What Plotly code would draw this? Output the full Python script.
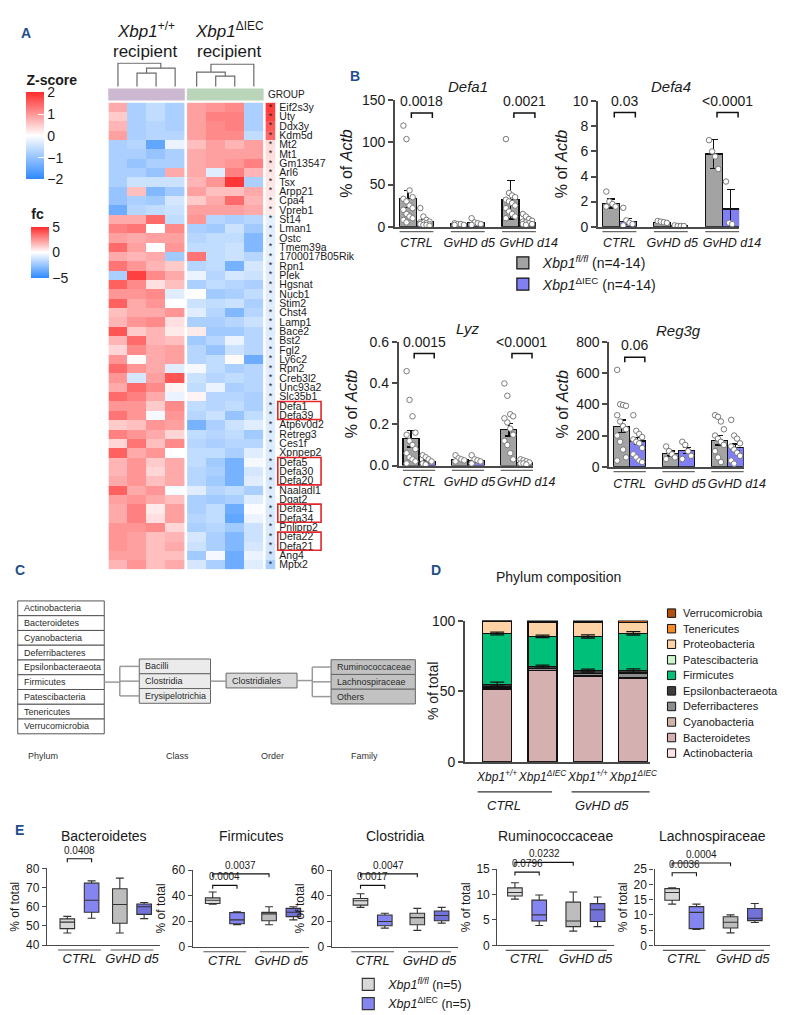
import plotly.graph_objects as go

W, H = 792, 1015
FONT = "Arial, 'Liberation Sans', Helvetica, sans-serif"
INK = "#1a1a1a"
AXC = "#4a4a4a"
PANEL_COL = "#1f4e8c"

# ============================ DATA ============================
# ---- Panel A: heatmap ----
genes = ["Eif2s3y", "Uty", "Ddx3y", "Kdm5d", "Mt2", "Mt1", "Gm13547", "Arl6", "Tsx", "Arpp21",
         "Cpa4", "Vpreb1", "St14", "Lman1", "Ostc", "Tmem39a", "1700017B05Rik", "Rpn1", "Plek",
         "Hgsnat", "Nucb1", "Stim2", "Chst4", "Lamp1", "Bace2", "Bst2", "Fgl2", "Ly6c2", "Rpn2",
         "Creb3l2", "Unc93a2", "Slc35b1", "Defa1", "Defa39", "Atp6v0d2", "Retreg3", "Ces1f",
         "Xpnpep2", "Defa5", "Defa30", "Defa20", "Naaladl1", "Dgat2", "Defa41", "Defa34",
         "Pnliprp2", "Defa22", "Defa21", "Ang4", "Mptx2"]

z_wt = [
    [0.8, -0.8, -0.6, -0.8], [0.5, -0.8, -0.6, -0.8], [0.7, -0.8, -0.7, -0.8], [0.9, -0.8, -0.7, -0.7],
    [-0.8, -0.7, -1.5, -0.2], [-0.8, -0.8, -1.0, -0.8], [-0.8, -1.0, -0.8, -0.8], [-0.8, -0.8, -1.0, 0.8],
    [-0.8, -0.5, -0.5, -0.5], [-1.0, 0.6, -1.2, -0.9], [-1.0, -0.8, -0.9, -0.4], [-1.4, -0.7, -0.6, -0.5],
    [0.8, 0.8, 1.4, -0.6], [1.2, 1.3, 0.0, 1.1], [0.9, 0.8, 0.9, 0.9], [1.4, 0.9, 0.0, 1.0],
    [0.8, 0.7, 0.8, -0.9], [1.3, 1.0, 0.7, 0.5], [-0.8, 1.8, 1.1, 0.8], [1.5, 1.1, 0.3, 0.6],
    [1.0, 1.0, 1.1, -0.3], [1.5, 0.8, 1.0, 0.0], [0.6, 0.8, 0.8, 1.0], [0.7, 1.0, 1.1, 0.3],
    [1.6, 0.5, 0.7, 0.2], [0.7, 1.4, 0.7, 0.6], [0.4, 1.1, 0.8, 0.9], [1.0, 0.05, 0.8, 0.9],
    [1.4, 1.0, 0.8, -0.3], [1.0, -0.4, 0.9, 1.6], [0.8, 1.4, 1.1, 0.1], [1.4, 1.2, 0.8, -0.2],
    [1.0, 1.0, 0.5, 1.1], [1.3, 1.0, -0.1, 1.0], [0.5, 0.6, 1.0, 0.9], [1.2, 1.0, 0.8, 0.4],
    [0.4, 1.3, 0.6, 1.1], [1.5, 0.8, 1.0, 0.0], [0.7, 1.0, 0.5, 0.8], [0.7, 1.0, 0.4, 0.8],
    [0.8, 1.0, 0.6, 0.8], [1.5, 0.8, 1.0, -0.05], [0.9, 1.0, 0.8, 0.6], [0.8, 1.2, 0.2, 0.9],
    [0.8, 1.2, 0.3, 0.9], [1.0, 1.0, 1.1, 0.4], [1.0, 0.9, 0.6, 0.7], [1.0, 0.9, 0.6, 0.8],
    [0.9, 0.9, 0.6, 0.6], [0.7, 1.0, 0.6, 0.8],
]
z_ko = [
    [0.9, 1.0, 1.1, -0.8], [0.9, 1.2, 1.2, -0.8], [0.9, 1.1, 1.2, -0.8], [0.9, 1.1, 1.1, -0.6],
    [0.6, 0.9, 0.7, 0.9], [0.8, 0.9, 0.9, 0.9], [0.8, 0.9, 1.0, 1.2], [0.8, -0.3, 1.2, 0.7],
    [0.7, 1.0, 1.9, -0.8], [0.9, 0.6, 0.6, 0.8], [0.5, 0.8, 1.4, 0.7], [0.9, 0.9, 0.9, 0.8],
    [1.0, -0.7, -0.8, -0.7], [-0.8, -0.9, -0.5, -0.9], [-0.7, -0.6, -0.6, -1.2], [-0.6, -0.6, -0.5, -1.2],
    [1.3, -0.6, -0.5, -0.7], [-0.7, -0.6, -1.3, -0.4], [-0.2, -0.7, -0.4, -0.5], [-0.8, -0.6, -0.7, -0.8],
    [0.0, -0.9, -0.8, -0.6], [-0.5, -0.6, -0.5, -0.8], [-0.3, -0.7, -1.2, -0.7], [-0.8, -0.8, -0.7, -0.5],
    [0.2, -0.9, -0.9, -0.7], [-0.9, -0.7, -0.2, -0.7], [-0.7, -1.0, -0.5, -0.7], [-0.7, -0.6, 0.05, -1.4],
    [-0.1, -0.6, -0.8, -0.7], [-0.5, -0.7, -0.6, -0.7], [-0.6, -0.2, -0.8, -0.7], [0.1, -0.7, -0.7, -0.8],
    [-0.6, -0.7, -0.6, -0.8], [-0.7, -0.5, -1.0, -0.6], [-1.3, -0.8, -0.5, -0.3], [-0.6, -0.7, -0.6, -0.9],
    [-0.7, -0.8, -0.7, -0.7], [-0.6, -0.6, -0.8, -0.3], [-0.6, -0.9, -1.3, -0.1], [-0.7, -0.8, -1.3, -0.4],
    [-0.7, -0.9, -1.3, -0.3], [-0.3, -0.7, -0.6, -0.8], [-0.8, -0.9, -0.8, -0.3], [-0.8, -0.6, -1.4, -0.05],
    [-0.7, -0.6, -1.5, -0.2], [-0.8, -0.7, -0.9, -0.5], [-0.4, -0.8, -1.2, -0.5], [-0.5, -0.8, -1.2, -0.4],
    [-0.9, -0.1, -1.4, -0.2], [-0.4, -0.8, -1.4, -0.3],
]
fc_values = [4.6, 4.4, 3.9, 3.6, 0.8, 0.8, 0.7, 0.6, 0.6, 0.6, 0.5, 0.5,
             -0.6, -0.7, -0.7, -0.6, -0.6, -0.7, -0.7, -0.7,
             -0.7, -0.7, -0.7, -0.7, -0.8, -0.7, -0.7, -0.7, -0.7, -0.7,
             -0.7, -0.7, -0.8, -0.8, -0.8, -0.8, -0.8, -0.8, -0.9, -0.9,
             -0.9, -0.8, -0.8, -0.9, -0.9, -0.9, -0.9, -1.0, -1.2, -2.0]
boxed_genes = [["Defa1", "Defa39"], ["Defa5", "Defa30", "Defa20"], ["Defa41", "Defa34"], ["Defa22", "Defa21"]]
# dendrogram links (left node, right node, height); leaves 0..3, merged nodes 4..
dend_wt = [(1, 2, 14), (4, 3, 19), (0, 5, 24)]
dend_ko = [(1, 2, 11), (0, 4, 15), (5, 3, 23)]

# ---- Panel B: qPCR ----
b_groups = ["CTRL", "GvHD d5", "GvHD d14"]
defa1_fl_mean = [33, 3, 32]
defa1_fl_err = [10, 0.6, 23]
defa1_ko_mean = [6, 4.5, 5]
defa1_ko_err = [2, 1.5, 2]
defa1_fl_pts = [[120, 104, 43, 35, 33, 30, 25, 22, 20, 15, 12, 10, 8, 5], [4, 3, 3, 2, 2],
                [104, 40, 37, 35, 32, 30, 28, 25, 22, 18, 15, 12, 10]]
defa1_ko_pts = [[22, 12, 8, 6, 5, 5, 4, 3, 3, 2, 2, 1], [10, 5, 4, 3, 2], [15, 12, 9, 7, 6, 5, 4, 3, 3, 2]]

defa4_fl_mean = [1.85, 0.35, 5.8]
defa4_fl_err = [0.35, 0.05, 1.15]
defa4_ko_mean = [0.4, 0.05, 1.4]
defa4_ko_err = [0.25, 0.02, 1.55]
defa4_fl_pts = [[2.8, 2.0, 1.8, 1.6, 1.6], [0.45, 0.4, 0.35, 0.3], [6.9, 6.0, 5.6, 4.6]]
defa4_ko_pts = [[1.5, 0.5, 0.3, 0.2, 0.1], [0.1, 0.05, 0.05, 0.05], [3.6, 0.3, 0.2]]

lyz_fl_mean = [0.13, 0.03, 0.175]
lyz_fl_err = [0.04, 0.006, 0.03]
lyz_ko_mean = [0.02, 0.025, 0.015]
lyz_ko_err = [0.008, 0.007, 0.004]
lyz_fl_pts = [[0.46, 0.32, 0.24, 0.16, 0.15, 0.12, 0.10, 0.08, 0.06, 0.04, 0.03, 0.02, 0.01],
              [0.05, 0.035, 0.03, 0.025, 0.02],
              [0.40, 0.34, 0.25, 0.24, 0.23, 0.21, 0.18, 0.15, 0.12, 0.10, 0.06, 0.03]]
lyz_ko_pts = [[0.05, 0.04, 0.03, 0.02, 0.01, 0.005], [0.05, 0.03, 0.025, 0.02, 0.01],
              [0.03, 0.025, 0.02, 0.015, 0.01, 0.01, 0.005]]

reg3g_fl_mean = [260, 85, 170]
reg3g_fl_err = [40, 15, 30]
reg3g_ko_mean = [165, 105, 125]
reg3g_ko_err = [22, 20, 20]
reg3g_fl_pts = [[620, 400, 390, 395, 330, 290, 260, 240, 200, 160, 110, 60, 40], [130, 100, 80, 60, 50],
                [330, 320, 290, 240, 200, 180, 160, 140, 100, 60, 30]]
reg3g_ko_pts = [[330, 230, 210, 190, 175, 160, 150, 120, 80, 60, 40, 30], [160, 140, 100, 70, 50],
                [300, 200, 180, 150, 130, 110, 90, 70, 40, 20]]

# ---- Panel C: taxonomy ----
phyla = ["Actinobacteria", "Bacteroidetes", "Cyanobacteria", "Deferribacteres", "Epsilonbacteraeota",
         "Firmicutes", "Patescibacteria", "Tenericutes", "Verrucomicrobia"]
classes = ["Bacilli", "Clostridia", "Erysipelotrichia"]
orders = ["Clostridiales"]
families = ["Ruminococcaceae", "Lachnospiraceae", "Others"]
levels = ["Phylum", "Class", "Order", "Family"]

# ---- Panel D: phylum composition ----
d_bars = ["<i>Xbp1</i><sup><i>+/+</i></sup>", "<i>Xbp1</i><sup><i>ΔIEC</i></sup>",
          "<i>Xbp1</i><sup><i>+/+</i></sup>", "<i>Xbp1</i><sup><i>ΔIEC</i></sup>"]
phylum_names = ["Actinobacteria", "Bacteroidetes", "Cyanobacteria", "Deferribacteres", "Epsilonbacteraeota",
                "Firmicutes", "Patescibacteria", "Proteobacteria", "Tenericutes", "Verrucomicrobia"]
phylum_colors = ["#fde4e4", "#d5b0b0", "#cfb5a6", "#8c8c8c", "#3d3d3d",
                 "#00bf78", "#ccf5cc", "#fdd3a6", "#f48a24", "#b0520e"]
phylum_values = [
    [0.2, 0.2, 0.2, 0.2],
    [51.0, 64.4, 60.3, 59.2],
    [0.3, 0.3, 0.2, 0.3],
    [1.5, 1.0, 2.0, 3.2],
    [2.0, 1.5, 1.9, 1.7],
    [35.9, 21.4, 24.2, 26.4],
    [0.2, 0.1, 0.1, 0.1],
    [8.5, 9.9, 10.1, 7.3],
    [0.2, 0.4, 0.3, 0.3],
    [0.2, 0.8, 0.7, 1.3],
]
epsilon_err = [1.4, 1.0, 1.0, 1.2]
firmicutes_err = [1.0, 0.9, 1.1, 1.2]

# ---- Panel E: box plots (min, q1, median, q3, max) for CTRL fl, CTRL ko, GvHD fl, GvHD ko ----
e_titles = ["Bacteroidetes", "Firmicutes", "Clostridia", "Ruminococcaceae", "Lachnospiraceae"]
bact_box = [[46.3, 48.6, 52.0, 53.7, 55.0], [54.0, 57.1, 63.4, 72.3, 73.5],
            [46.3, 51.4, 61.2, 69.4, 74.9], [53.8, 56.0, 60.0, 61.4, 62.2]]
firm_box = [[33.3, 33.8, 36.4, 38.2, 42.8], [17.2, 18.0, 21.0, 26.7, 27.4],
            [17.2, 20.3, 25.7, 26.9, 31.3], [21.0, 23.6, 27.0, 30.0, 31.3]]
clos_box = [[30.8, 32.6, 36.0, 37.7, 41.5], [14.6, 16.5, 19.8, 24.9, 26.2],
            [12.8, 17.2, 22.8, 26.2, 30.0], [18.5, 20.3, 24.4, 28.0, 30.8]]
rum_box = [[9.1, 9.7, 10.4, 11.3, 12.3], [3.9, 4.8, 6.0, 8.9, 9.9],
           [2.8, 3.7, 4.8, 8.5, 10.5], [3.7, 4.7, 7.0, 8.2, 9.5]]
lach_box = [[13.5, 14.8, 17.3, 18.6, 18.9], [5.2, 5.5, 10.8, 12.7, 13.5],
            [4.1, 5.7, 7.6, 9.4, 10.0], [7.5, 8.1, 8.9, 12.1, 13.7]]
e_groups = ["CTRL", "GvHD d5"]
bact_p = [(0, 1, "0.0408", 85.0)]
firm_p = [(0, 1, "0.0004", 48.0), (0, 2, "0.0037", 57.0)]
clos_p = [(0, 1, "0.0017", 48.0), (0, 2, "0.0047", 57.0)]
rum_p = [(0, 1, "0.0796", 14.4), (0, 2, "0.0232", 16.3)]
lach_p = [(0, 1, "0.0036", 23.8), (0, 2, "0.0004", 27.0)]

# ============================ HELPERS ============================
def fx(p):
    return p / W


def fy(p):
    return 1 - p / H


fig = go.Figure()
lay = {}
AX = {}
shapes = []
ann = []


def add_axes(i, xdom, ydom, xr, yr, xkw=None, ykw=None):
    s = "" if i == 1 else str(i)
    xd = dict(domain=[fx(xdom[0]), fx(xdom[1])], range=list(xr), anchor="y" + s,
              showgrid=False, zeroline=False, fixedrange=True, tickangle=0)
    yd = dict(domain=[fy(ydom[1]), fy(ydom[0])], range=list(yr), anchor="x" + s,
              showgrid=False, zeroline=False, fixedrange=True)
    if xkw:
        xd.update(xkw)
    if ykw:
        yd.update(ykw)
    lay["xaxis" + s] = xd
    lay["yaxis" + s] = yd
    AX[i] = (xdom, ydom, xr, yr)
    return "x" + s, "y" + s


def X(i, v):
    xdom, _, xr, _ = AX[i]
    return xdom[0] + (v - xr[0]) / (xr[1] - xr[0]) * (xdom[1] - xdom[0])


def Y(i, v):
    _, ydom, _, yr = AX[i]
    return ydom[1] - (v - yr[0]) / (yr[1] - yr[0]) * (ydom[1] - ydom[0])


def line(x0, y0, x1, y1, color, width=1.0):
    shapes.append(dict(type="line", xref="paper", yref="paper", x0=fx(x0), y0=fy(y0), x1=fx(x1), y1=fy(y1),
                       line=dict(color=color, width=width)))


def rect(x0, y0, x1, y1, fill, color="#555", width=1.0):
    shapes.append(dict(type="rect", xref="paper", yref="paper", x0=fx(x0), y0=fy(y1), x1=fx(x1), y1=fy(y0),
                       fillcolor=fill, line=dict(color=color, width=width)))


def text(x, y, s, size, xanchor="center", yanchor="middle", color=INK, textangle=0):
    ann.append(dict(x=fx(x), y=fy(y), xref="paper", yref="paper", text=s, showarrow=False,
                    xanchor=xanchor, yanchor=yanchor, textangle=textangle,
                    font=dict(size=size, color=color, family=FONT)))


def bracket(x0, x1, y, drop, color="#111", width=1.3):
    path = f"M{fx(x0)},{fy(y + drop)} L{fx(x0)},{fy(y)} L{fx(x1)},{fy(y)} L{fx(x1)},{fy(y + drop)}"
    shapes.append(dict(type="path", xref="paper", yref="paper", path=path, line=dict(color=color, width=width)))


def dendro_segments(links, leaf_x):
    pos = {k: (x, 0.0) for k, x in enumerate(leaf_x)}
    n = len(leaf_x)
    xs, ys = [], []
    for k, (a, b, h) in enumerate(links):
        xa, ha = pos[a]
        xb, hb = pos[b]
        xs += [xa, xa, xb, xb, None]
        ys += [ha, h, h, hb, None]
        pos[n + k] = ((xa + xb) / 2, h)
    return xs, ys


# ============================ PANEL A ============================
rows = list(range(len(genes)))
hx, hy = add_axes(1, (103.3, 275), (88, 562), (-0.5, 8.26), (len(genes) - 0.5, -0.5),
                  xkw=dict(visible=False),
                  ykw=dict(side="right", tickmode="array", tickvals=rows, ticktext=genes, ticks="",
                           showline=False, tickfont=dict(size=10.5, color=INK), ticklabelstandoff=3))
wt_cols = [0, 1, 2, 3]
ko_cols = [4.13, 5.13, 6.13, 7.13]
fc_edges = [7.75, 8.26]
fig.add_trace(go.Heatmap(z=z_wt, x=wt_cols, y=rows, coloraxis="coloraxis", xaxis=hx, yaxis=hy, hoverinfo="skip"))
fig.add_trace(go.Heatmap(z=z_ko, x=ko_cols, y=rows, coloraxis="coloraxis", xaxis=hx, yaxis=hy, hoverinfo="skip"))
fig.add_trace(go.Heatmap(z=[[v] for v in fc_values], x=fc_edges, y=rows, coloraxis="coloraxis2",
                         xaxis=hx, yaxis=hy, hoverinfo="skip"))
fig.add_trace(go.Scatter(x=[sum(fc_edges) / 2] * len(genes), y=rows, mode="text", text=["*"] * len(genes),
                         textfont=dict(size=9, color=INK), xaxis=hx, yaxis=hy, hoverinfo="skip",
                         showlegend=False))

dx, dy = add_axes(2, (103.3, 275), (47, 72), (-0.5, 8.26), (0, 25), xkw=dict(visible=False),
                  ykw=dict(visible=False))
for links, leaves in ((dend_wt, wt_cols), (dend_ko, ko_cols)):
    xs, ys = dendro_segments(links, leaves)
    fig.add_trace(go.Scatter(x=xs, y=ys, mode="lines", line=dict(color="#6a6a6a", width=1.2),
                             xaxis=dx, yaxis=dy, hoverinfo="skip", showlegend=False))

rect(X(1, wt_cols[0] - 0.5), 74, X(1, wt_cols[-1] + 0.5), 85.5, "#ccb8d0", color="#ccb8d0", width=0.5)
rect(X(1, ko_cols[0] - 0.5), 74, X(1, ko_cols[-1] + 0.5), 85.5, "#bad5ba", color="#bad5ba", width=0.5)
text(265, 80, "GROUP", 10, xanchor="left")

for grp in boxed_genes:
    i0, i1 = genes.index(grp[0]), genes.index(grp[-1])
    rect(277.5, Y(1, i0 - 0.47), 322, Y(1, i1 + 0.47), "rgba(0,0,0,0)", color="#e3262b", width=1.6)

ZS = [[0, "#2e89ff"], [0.5, "#ffffff"], [1, "#ff2b2b"]]
lay["coloraxis"] = dict(colorscale=ZS, cmin=-2, cmax=2, colorbar=dict(
    x=fx(19), xanchor="left", y=fy(166), yanchor="bottom", len=108, lenmode="pixels",
    thickness=18, thicknessmode="pixels", outlinewidth=0, xpad=0, ypad=0,
    tickmode="array", tickvals=[-2, -1, 0, 1, 2], ticktext=["−2", "−1", "0", "1", "2"],
    ticks="inside", ticklen=6, tickwidth=1.2, tickcolor="white", tickfont=dict(size=14, color=INK),
    title=dict(text="<b>Z-score</b>", side="top", font=dict(size=14, color=INK))))
lay["coloraxis2"] = dict(colorscale=ZS, cmin=-5, cmax=5, colorbar=dict(
    x=fx(24), xanchor="left", y=fy(266), yanchor="bottom", len=72, lenmode="pixels",
    thickness=18, thicknessmode="pixels", outlinewidth=0, xpad=0, ypad=0,
    tickmode="array", tickvals=[-5, 0, 5], ticktext=["−5", "0", "5"],
    ticks="inside", ticklen=6, tickwidth=1.2, tickcolor="white", tickfont=dict(size=14, color=INK),
    title=dict(text="<b>fc</b>", side="top", font=dict(size=14, color=INK))))

text(141.7, 14, "<i>Xbp1</i><sup>+/+</sup>", 17)
text(141.7, 36, "recipient", 17)
text(228.3, 14, "<i>Xbp1</i><sup>ΔIEC</sup>", 17)
text(228.3, 36, "recipient", 17)

# ============================ PANEL B ============================
GRAY = "#a3a3a3"
BLUE = "#8080f4"
b_label_shift = [0.0, 0.03, 0.19]
b_specs = [
    ("Defa1", defa1_fl_mean, defa1_fl_err, defa1_ko_mean, defa1_ko_err, defa1_fl_pts, defa1_ko_pts,
     (398, 543), (85.7, 214), (0, 150), 50, None, [(0, "0.0018", 135), (2, "0.0021", 135)], 72, 5),
    ("Defa4", defa4_fl_mean, defa4_fl_err, defa4_ko_mean, defa4_ko_err, defa4_fl_pts, defa4_ko_pts,
     (606.7, 752), (86.7, 214), (0, 10), 2, None, [(0, "0.03", 9.1), (2, "&lt;0.0001", 9.1)], 72, 1),
    ("Lyz", lyz_fl_mean, lyz_fl_err, lyz_ko_mean, lyz_ko_err, lyz_fl_pts, lyz_ko_pts,
     (401.7, 540), (331.7, 456.7), (0, 0.6), 0.2, ".1f", [(0, "0.0015", 0.546), (2, "&lt;0.0001", 0.546)], 317, 8),
    ("Reg3g", reg3g_fl_mean, reg3g_fl_err, reg3g_ko_mean, reg3g_ko_err, reg3g_fl_pts, reg3g_ko_pts,
     (618.3, 756.7), (331, 458), (0, 800), 200, None, [(0, "0.06", 701)], 320, 4),
]
jit = [-0.09, -0.03, 0.03, 0.09]
for k, (gname, flm, fle, kom, koe, flp, kop, xdom, ydom, yr, dt, tf, brs, ty, so) in enumerate(b_specs):
    idx = 3 + k
    ykw = dict(showline=True, linecolor=AXC, linewidth=1.5, ticks="outside", ticklen=5, tickwidth=1.5,
               tickcolor=AXC, tickfont=dict(size=14, color=INK), dtick=dt, tick0=0,
               title=dict(text="% of <i>Actb</i>", font=dict(size=16, color=INK), standoff=so))
    if tf:
        ykw["tickformat"] = tf
    cats = list(range(len(b_groups)))
    xa, ya = add_axes(idx, xdom, ydom, (-0.42, 2.33), yr,
                      xkw=dict(showline=True, linecolor=AXC, linewidth=1.5, ticks="", tickmode="array",
                               tickvals=[c + s for c, s in zip(cats, b_label_shift)],
                               ticktext=[f"<i>{g}</i>" for g in b_groups],
                               tickfont=dict(size=12.5, color=INK), ticklabelstandoff=4),
                      ykw=ykw)
    for mean, err, pts, col, off, nm in (
            (flm, fle, flp, GRAY, -0.165, "<i>Xbp1</i><sup><i>fl/fl</i></sup> (n=4-14)"),
            (kom, koe, kop, BLUE, 0.165, "<i>Xbp1</i><sup>ΔIEC</sup> (n=4-14)")):
        fig.add_trace(go.Bar(x=[c + off for c in cats], y=mean, width=0.33, name=nm,
                             marker=dict(color=col, line=dict(color="#111", width=1.2)),
                             error_y=dict(type="data", array=err, color="#111", thickness=1.5, width=4),
                             xaxis=xa, yaxis=ya, hoverinfo="skip", showlegend=(k == 0), legend="legend"))
        px_, py_ = [], []
        for c, grp in zip(cats, pts):
            for j, v in enumerate(sorted(grp, reverse=True)):
                px_.append(c + off + jit[j % 4])
                py_.append(v)
        fig.add_trace(go.Scatter(x=px_, y=py_, mode="markers", cliponaxis=False,
                                 marker=dict(symbol="circle", size=5.5, color="white",
                                             line=dict(color="#7a7a7a", width=1)),
                                 xaxis=xa, yaxis=ya, hoverinfo="skip", showlegend=False))
    for c in cats:
        line(X(idx, c - 0.33), ydom[1] + 5, X(idx, c + 0.33), ydom[1] + 5, "#666", 1.2)
    for c, lab, yv in brs:
        x0, x1, yp = X(idx, c - 0.1), X(idx, c + 0.31), Y(idx, yv)
        bracket(x0, x1, yp, 5, width=1.5)
        text((x0 + x1) / 2, yp - 2, lab, 14, yanchor="bottom")
    text(X(idx, 1), ty, f"<i>{gname}</i>", 15)

lay["legend"] = dict(x=fx(509), y=fy(235), xanchor="left", yanchor="top", traceorder="normal",
                     font=dict(size=14, color=INK, family=FONT), bgcolor="rgba(0,0,0,0)",
                     itemclick=False, itemdoubleclick=False, tracegroupgap=0)

# ============================ PANEL C ============================
CF = 9
top_ph, rh = 594.3, 15
for i, nm in enumerate(phyla):
    rect(10, top_ph + i * rh, 99, top_ph + (i + 1) * rh, "white", "#555", 1)
    text(14, top_ph + (i + 0.5) * rh, nm, CF, xanchor="left", color="#2a2a2a")
top_cl = 653.3
for i, nm in enumerate(classes):
    rect(135, top_cl + i * rh, 208.3, top_cl + (i + 1) * rh, "#ebebeb", "#666", 1)
    text(139, top_cl + (i + 0.5) * rh, nm, CF, xanchor="left", color="#2a2a2a")
top_or = 667.7
for i, nm in enumerate(orders):
    rect(224.3, top_or + i * rh, 297.3, top_or + (i + 1) * rh, "#d9d9d9", "#666", 1)
    text(228, top_or + (i + 0.5) * rh, nm, CF, xanchor="left", color="#2a2a2a")
top_fa = 654
for i, nm in enumerate(families):
    rect(332.3, top_fa + i * rh, 419, top_fa + (i + 1) * rh, "#c2c2c2", "#666", 1)
    text(336, top_fa + (i + 0.5) * rh, nm, CF, xanchor="left", color="#2a2a2a")
CONN = "#9a9a9a"
yf = top_ph + (phyla.index("Firmicutes") + 0.5) * rh
line(99, yf, 115, yf, CONN, 1.5)
line(115, top_cl + 0.5 * rh, 115, top_cl + (len(classes) - 0.5) * rh, CONN, 1.5)
for i in range(len(classes)):
    line(115, top_cl + (i + 0.5) * rh, 135, top_cl + (i + 0.5) * rh, CONN, 1.5)
yc = top_cl + (classes.index("Clostridia") + 0.5) * rh
line(208.3, yc, 224.3, yc, CONN, 1.5)
yo = top_or + 0.5 * rh
line(297.3, yo, 313, yo, CONN, 1.5)
line(313, top_fa + 0.5 * rh, 313, top_fa + (len(families) - 0.5) * rh, CONN, 1.5)
for i in range(len(families)):
    line(313, top_fa + (i + 0.5) * rh, 332.3, top_fa + (i + 0.5) * rh, CONN, 1.5)
for lv, xc in zip(levels, [36, 174, 272, 367]):
    text(xc, 752, lv, 9, color="#333")

# ============================ PANEL D ============================
dxa, dya = add_axes(7, (470, 660), (614.3, 757.7), (-0.71, 3.36), (0, 100),
                    xkw=dict(showline=True, linecolor=AXC, linewidth=1.5, ticks="", tickmode="array",
                             tickvals=list(range(len(d_bars))), ticktext=d_bars,
                             tickfont=dict(size=12, color=INK), ticklabelstandoff=3),
                    ykw=dict(showline=True, linecolor=AXC, linewidth=1.5, ticks="outside", ticklen=5,
                             tickwidth=1.5, tickcolor=AXC, tickmode="array", tickvals=[0, 50, 100],
                             tickfont=dict(size=14, color=INK)))
text(437, 686, "% of total", 14, textangle=-90)
bx = list(range(len(d_bars)))
for nm, col, vals in zip(phylum_names, phylum_colors, phylum_values):
    fig.add_trace(go.Bar(x=bx, y=vals, width=0.64, name=nm,
                         marker=dict(color=col, line=dict(color="#111", width=1.2)),
                         xaxis=dxa, yaxis=dya, hoverinfo="skip", showlegend=False))
ie = phylum_names.index("Epsilonbacteraeota")
ifm = phylum_names.index("Firmicutes")
tops_e = [sum(phylum_values[r][b] for r in range(ie + 1)) for b in bx]
tops_f = [sum(phylum_values[r][b] for r in range(ifm + 1)) for b in bx]
for tops, errs in ((tops_e, epsilon_err), (tops_f, firmicutes_err)):
    fig.add_trace(go.Scatter(x=bx, y=tops, mode="markers", marker=dict(size=1, color="rgba(0,0,0,0)"),
                             error_y=dict(type="data", array=errs, color="#111", thickness=1.3, width=7),
                             xaxis=dxa, yaxis=dya, hoverinfo="skip", showlegend=False))
for k, (nm, col) in enumerate(zip(phylum_names[::-1], phylum_colors[::-1])):
    yc_ = 606.7 + k * 15.8
    rect(678.3, yc_ - 4.3, 686.7, yc_ + 4.3, col, "#111", 1)
    text(692, yc_, nm, 11, xanchor="left")
line(X(7, -0.43), 788.3, X(7, 1.21), 788.3, "#333", 1.2)
line(X(7, 1.64), 788.3, X(7, 3.36), 788.3, "#333", 1.2)
text(X(7, 0.14), 801.7, "<i>CTRL</i>", 13)
text(X(7, 2.3), 801.7, "<i>GvHD d5</i>", 13)
text(566.7, 570, "Phylum composition", 14)

# ============================ PANEL E ============================
e_data = [bact_box, firm_box, clos_box, rum_box, lach_box]
e_pvals = [bact_p, firm_p, clos_p, rum_p, lach_p]
e_layout = [((40, 156.7), (866, 944), (40, 80), 10, (-0.62, 1.54)),
            ((190, 310), (867.7, 945.7), (0, 60), 20, (-0.57, 1.5)),
            ((333, 463.3), (867.7, 945.7), (0, 60), 20, (-0.72, 1.51)),
            ((503.3, 623.3), (866.7, 944.3), (0, 15), 5, (-0.51, 1.49)),
            ((665, 783.3), (866.7, 944.3), (0, 25), 5, (-0.51, 1.46))]
E_FILLS = ["#d8d8d8", "#8585f2", "#bdbdbd", "#7272d8"]
E_NAMES = ["<i>Xbp1</i><sup><i>fl/fl</i></sup> (n=5)", "<i>Xbp1</i><sup>ΔIEC</sup> (n=5)"]
for i, (title, data, pv, (xdom, ydom, yr, dt, xr)) in enumerate(zip(e_titles, e_data, e_pvals, e_layout)):
    idx = 8 + i
    xa, ya = add_axes(idx, xdom, ydom, xr, yr,
                      xkw=dict(showline=True, linecolor=AXC, linewidth=1.3, ticks="", tickmode="array",
                               tickvals=[0, 1], ticktext=[f"<i>{g}</i>" for g in e_groups],
                               tickfont=dict(size=13, color=INK), ticklabelstandoff=1),
                      ykw=dict(showline=True, linecolor=AXC, linewidth=1.3, ticks="outside", ticklen=4,
                               tickwidth=1.2, tickcolor=AXC, dtick=dt, tick0=0,
                               tickfont=dict(size=12, color=INK),
                               title=dict(text="% of total", font=dict(size=12, color=INK), standoff=3)))
    sp = (xdom[1] - xdom[0]) / (xr[1] - xr[0])
    off, bw = 12.5 / sp, 15 / sp
    pos = [0 - off, 0 + off, 1 - off, 1 + off]
    for b, st in enumerate(data):
        fig.add_trace(go.Box(x=[pos[b]], lowerfence=[st[0]], q1=[st[1]], median=[st[2]], q3=[st[3]],
                             upperfence=[st[4]], width=bw, fillcolor=E_FILLS[b],
                             line=dict(color="#333", width=1.1), whiskerwidth=0.55, boxpoints=False,
                             name=E_NAMES[b % 2], showlegend=(i == 0 and b < 2), legend="legend2",
                             xaxis=xa, yaxis=ya, hoverinfo="skip"))
    for c in (0, 1):
        xc_ = X(idx, c)
        line(xc_ - 22, ydom[1] + 5, xc_ + 22, ydom[1] + 5, "#555", 1.1)
    for a, b, lab, yv in pv:
        x0, x1, yp = X(idx, pos[a]), X(idx, pos[b]), Y(idx, yv)
        bracket(x0, x1, yp, 3.5, width=1.1)
        text((x0 + x1) / 2, yp - 1, lab, 10, yanchor="bottom")
    text((xdom[0] + xdom[1]) / 2, 833, title, 14)

lay["legend2"] = dict(x=fx(350), y=fy(969), xanchor="left", yanchor="top", traceorder="normal",
                      font=dict(size=12.5, color=INK, family=FONT), bgcolor="rgba(0,0,0,0)",
                      itemclick=False, itemdoubleclick=False, tracegroupgap=0)

# ---- panel letters ----
for lab, x, y in (("A", 18, 17), ("B", 357, 61), ("C", 12, 563), ("D", 440, 563), ("E", 12, 827)):
    text(x, y, f"<b>{lab}</b>", 14, color=PANEL_COL)

lay.update(dict(width=W, height=H, margin=dict(l=0, r=0, t=0, b=0), paper_bgcolor="white",
                plot_bgcolor="white", font=dict(family=FONT, color=INK), barmode="stack",
                hovermode=False, shapes=shapes, annotations=ann, showlegend=True))
fig.update_layout(**lay)
fig.write_html("out.html")
